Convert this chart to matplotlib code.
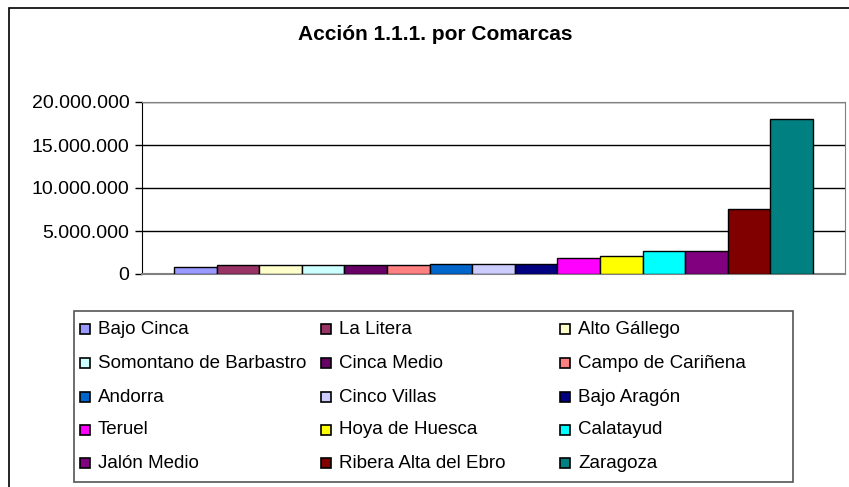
import matplotlib.pyplot as plt
from matplotlib.patches import Rectangle
from matplotlib.ticker import FuncFormatter

plt.rcParams['font.family'] = ['Liberation Sans', 'DejaVu Sans']

# Data
comarcas = ['Bajo Cinca', 'La Litera', 'Alto Gállego', 'Somontano de Barbastro',
            'Cinca Medio', 'Campo de Cariñena', 'Andorra', 'Cinco Villas',
            'Bajo Aragón', 'Teruel', 'Hoya de Huesca', 'Calatayud',
            'Jalón Medio', 'Ribera Alta del Ebro', 'Zaragoza']
importes = [830000, 1040000, 1000000, 1000000, 1000000, 1000000, 1200000, 1200000,
            1200000, 1860000, 2060000, 2650000, 2660000, 7600000, 18000000]
colores = ['#9999FF', '#993366', '#FFFFCC', '#CCFFFF', '#660066', '#FF8080',
           '#0066CC', '#CCCCFF', '#000080', '#FF00FF', '#FFFF00', '#00FFFF',
           '#800080', '#800000', '#008080']
yticks = [0, 5000000, 10000000, 15000000, 20000000]

W, H = 849, 487
fig = plt.figure(figsize=(W / 100, H / 100), dpi=100)

# outer chart frame (right / bottom edges fall outside the picture)
fig.patches.append(Rectangle((9 / W, -0.1), 1.0, (H - 8) / H + 0.1, transform=fig.transFigure,
                             fill=False, edgecolor='black', linewidth=1.2))

fig.text(435 / W, 1 - 35 / H, 'Acción 1.1.1. por Comarcas', ha='center', va='center',
         fontsize=15, fontweight='bold')

ax = fig.add_axes([142 / W, 1 - 274 / H, 703 / W, 172 / H])
x = range(len(comarcas))
ax.bar(x, importes, width=1.0, color=colores, edgecolor='black', linewidth=1.0, zorder=3)
ax.set_xlim(-1.25, len(comarcas) + 0.25)
ax.set_ylim(0, 20000000)
ax.set_yticks(yticks)
ax.yaxis.set_major_formatter(FuncFormatter(lambda v, p: f'{int(v):,}'.replace(',', '.')))
ax.tick_params(axis='y', labelsize=14, length=5, direction='out', width=1, pad=4)
ax.set_xticks([])
ax.grid(axis='y', color='black', linewidth=1, zorder=0)
ax.spines['left'].set_color('black')
for s in ['top', 'right', 'bottom']:
    ax.spines[s].set_color('#808080')
ax.spines['bottom'].set_linewidth(1.5)

# legend box drawn row by row like the original
fig.patches.append(Rectangle((74 / W, 1 - 482 / H), (793 - 74) / W, (482 - 311) / H,
                             transform=fig.transFigure, fill=False,
                             edgecolor='#555555', linewidth=1.2))
col_x = [80, 321, 560]
row_y = [329, 363, 397, 430, 463]
for i, (nombre, c) in enumerate(zip(comarcas, colores)):
    cx = col_x[i % 3]
    cy = row_y[i // 3]
    fig.patches.append(Rectangle((cx / W, 1 - (cy + 5) / H), 10 / W, 10 / H,
                                 transform=fig.transFigure, facecolor=c,
                                 edgecolor='black', linewidth=1.2))
    fig.text((cx + 18) / W, 1 - cy / H, nombre, ha='left', va='center', fontsize=13.5)

fig.savefig('out.png', dpi=100)
